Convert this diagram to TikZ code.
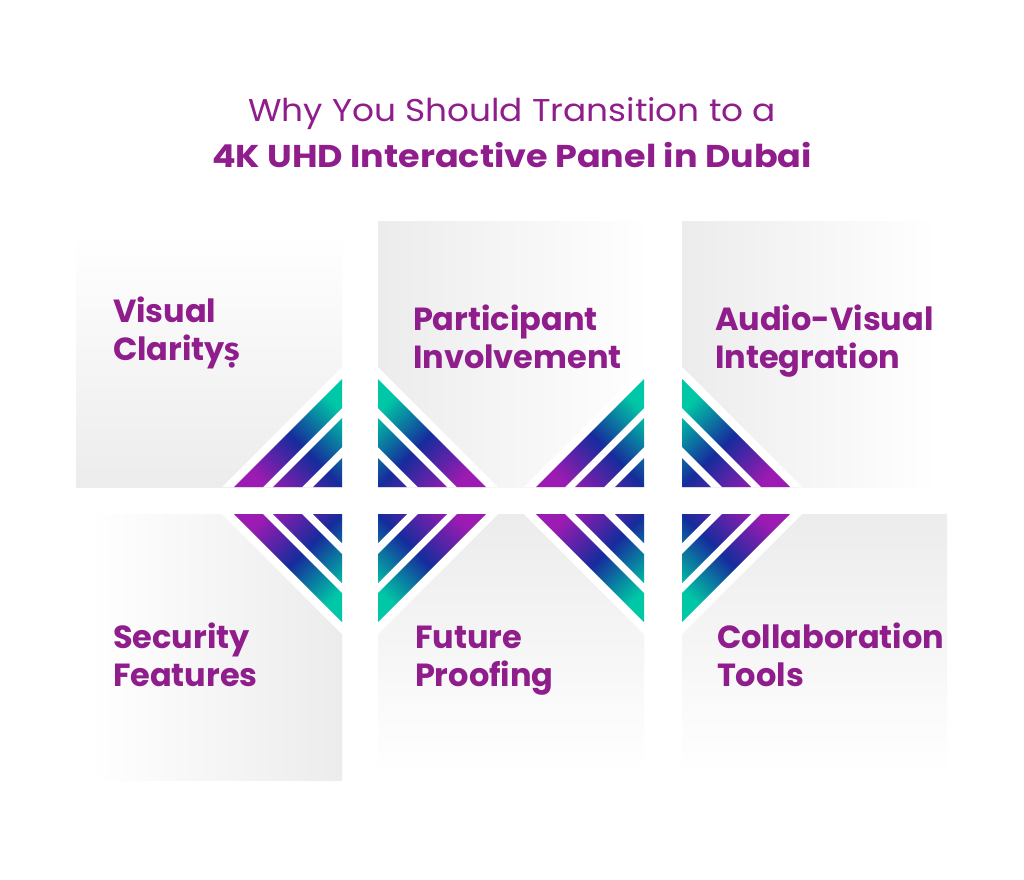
\documentclass[tikz,border=0pt]{standalone}
\usepackage{fontspec}
\setmainfont{Poppins}
\newfontfamily\titleafont{Poppins}[FakeStretch=1.09]
\newfontfamily\titlebfont{Poppins}[FakeStretch=1.11]
\newfontfamily\dotfont{Fira Sans}
\usetikzlibrary{calc}
\definecolor{ctext}{RGB}{143,29,140}
\definecolor{cpurple}{RGB}{156,27,178}
\definecolor{cblue}{RGB}{22,44,156}
\definecolor{cteal}{RGB}{0,200,166}
\definecolor{pgray}{RGB}{236,236,236}
\pgfdeclarehorizontalshading{stripeshade}{100bp}{color(0bp)=(cpurple); color(25bp)=(cpurple); color(50bp)=(cblue); color(75bp)=(cteal); color(100bp)=(cteal)}
% #1 cx, #2 cy, #3 sx, #4 sy, #5 shading angle
\newcommand{\stripequad}[5]{%
  \fill[white] (#1,#2) -- ++({#3*120},0) -- ++({-#3*120},{#4*120}) -- cycle;
  \shade[shading=stripeshade, shading angle=#5]
    (#1,#2) -- ++({#3*29},0) -- ++({-#3*29},{#4*29}) -- cycle
    ({#1+#3*40},#2) -- ++({#3*29},0) -- ++({-#3*69},{#4*69}) -- ++(0,{-#4*29}) -- cycle
    ({#1+#3*79},#2) -- ++({#3*29},0) -- ++({-#3*108},{#4*108}) -- ++(0,{-#4*29}) -- cycle;
}
\tikzset{
  label/.style={anchor=base west, inner sep=0pt, outer sep=0pt, text=ctext, align=left,
    font=\fontsize{32}{38}\selectfont\bfseries},
  title/.style={anchor=base, inner sep=0pt, outer sep=0pt, text=ctext}
}
\begin{document}
\begin{tikzpicture}[x=1pt,y=-1pt]
\useasboundingbox (0,0) rectangle (1024,879);
\fill[white] (0,0) rectangle (1024,879);
% panels
\shade[top color=white, bottom color=pgray] (76,235) rectangle (342,487);
\shade[left color=pgray, right color=white!98!pgray] (378,221) rectangle (644,487);
\shade[left color=pgray, right color=white] (682,221) rectangle (936,487);
\shade[left color=white, right color=pgray] (90,514) rectangle (342,780);
\shade[top color=pgray, bottom color=white] (378,514) rectangle (644,772);
\shade[top color=pgray, bottom color=white] (682,514) rectangle (947,772);
% stripes, left diamond
\stripequad{342}{487}{-1}{-1}{45}
\stripequad{378}{487}{1}{-1}{135}
\stripequad{342}{514}{-1}{1}{-45}
\stripequad{378}{514}{1}{1}{225}
% stripes, right diamond
\stripequad{644}{487}{-1}{-1}{45}
\stripequad{682}{487}{1}{-1}{135}
\stripequad{644}{514}{-1}{1}{-45}
\stripequad{682}{514}{1}{1}{225}
% title
\node[title, font=\titleafont\fontsize{31.5}{46}\selectfont] (t1) at (512,121) {Why You Should Transition to a};
\node[title, font=\titlebfont\fontsize{31.5}{46}\selectfont\bfseries] (t2) at (512,167) {4K UHD Interactive Panel in Dubai};
% labels
\node[label] (l1) at (113,360) {Visual\\Clarity{\dotfont\bfseries ṣ}};
\node[label] (l2) at (413,368) {Participant\\Involvement};
\node[label] (l3) at (715,368) {Audio-Visual\\Integration};
\node[label] (l4) at (113,686) {Security\\Features};
\node[label] (l5) at (415,686) {Future\\Proofing};
\node[label] (l6) at (717,686) {Collaboration\\Tools};
\end{tikzpicture}
\end{document}
